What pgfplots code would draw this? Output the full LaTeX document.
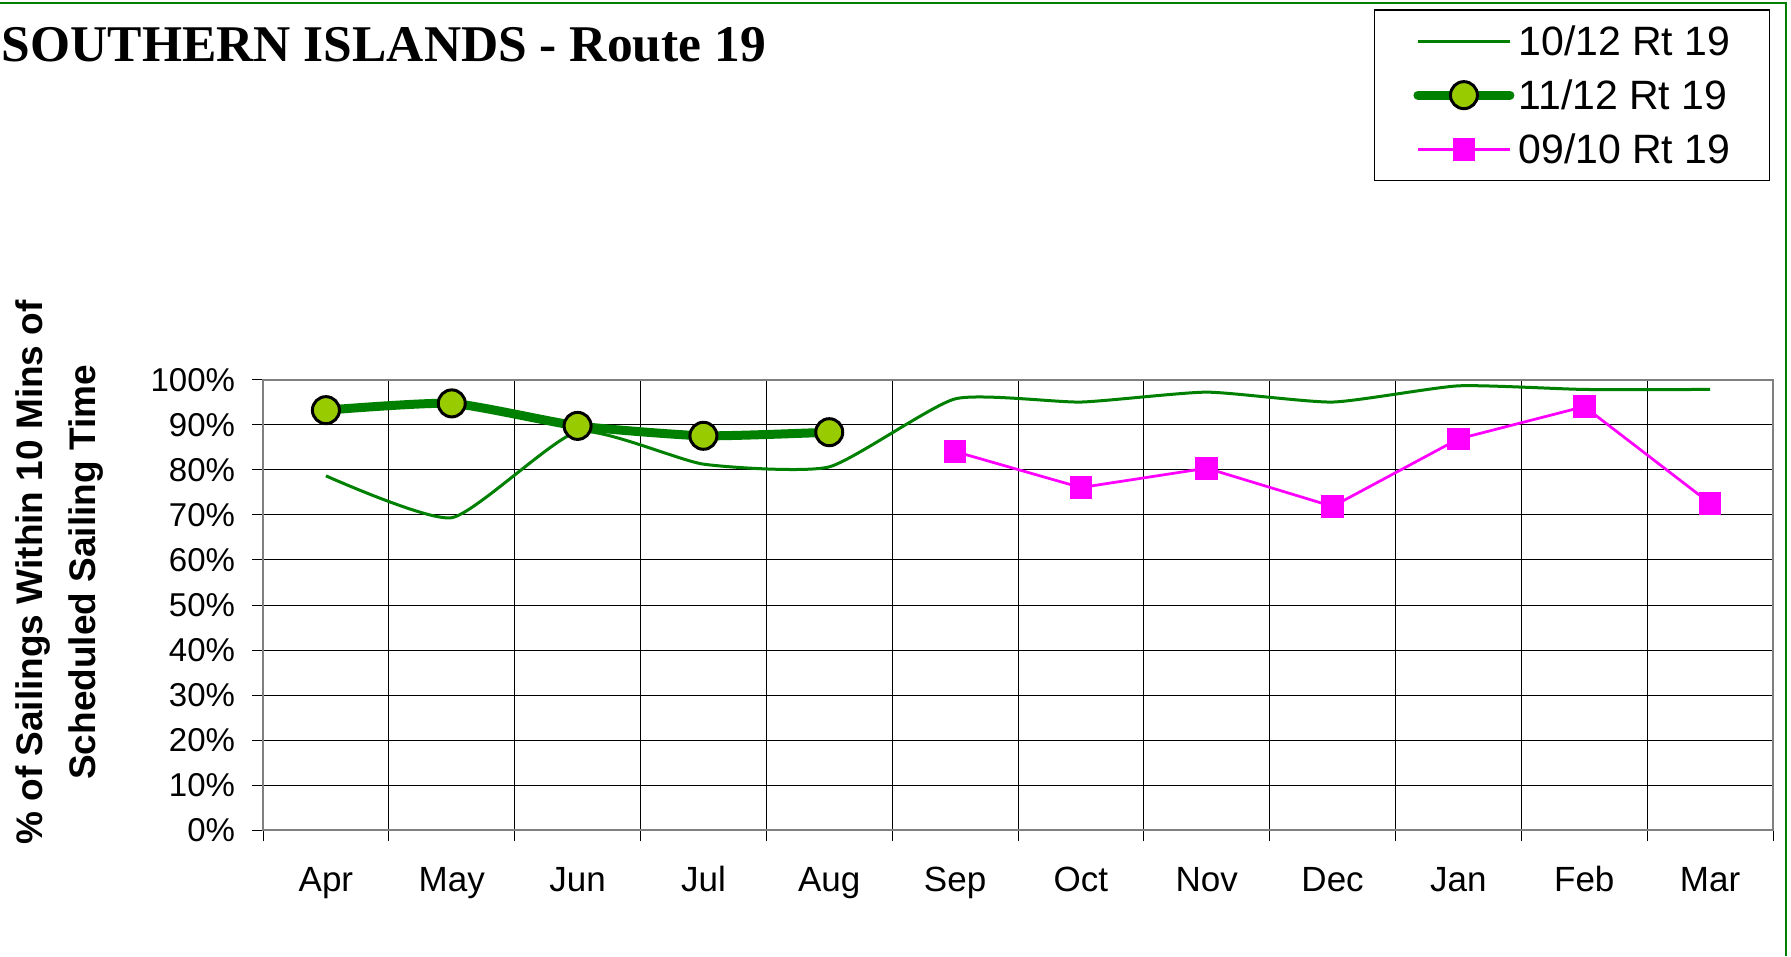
\documentclass[border=0pt]{standalone}
\usepackage{fontspec}
\setmainfont{Liberation Sans}
\newfontfamily\titlefont{Liberation Serif}
\usepackage{pgfplots}
\pgfplotsset{compat=1.18}
\usetikzlibrary{calc}
\definecolor{dgreen}{RGB}{0,128,0}
\definecolor{lgreen}{RGB}{153,204,0}
\definecolor{mag}{RGB}{255,0,255}
\begin{document}
\begin{tikzpicture}
\begin{axis}[
  scale only axis, width=604pt, height=180pt,
  xmin=-0.5, xmax=11.5, ymin=0, ymax=100,
  xtick={-0.5,0.5,1.5,2.5,3.5,4.5,5.5,6.5,7.5,8.5,9.5,10.5,11.5},
  x tick label as interval,
  xticklabels={Apr,May,Jun,Jul,Aug,Sep,Oct,Nov,Dec,Jan,Feb,Mar},
  ytick={0,10,20,30,40,50,60,70,80,90,100},
  yticklabels={0\%,10\%,20\%,30\%,40\%,50\%,60\%,70\%,80\%,90\%,100\%},
  xtick pos=bottom, ytick pos=left,
  tick align=outside, major tick length=4.4pt,
  tick style={black, line width=0.4pt},
  xmajorgrids, ymajorgrids,
  grid style={black, line width=0.4pt},
  axis line style={draw=gray, line width=1pt},
  xticklabel style={font=\fontsize{14}{16}\selectfont, anchor=base, inner sep=0pt, yshift=-20.1pt},
  yticklabel style={font=\fontsize{13.2}{15}\selectfont, anchor=east, inner sep=0pt, xshift=-6.6pt},
  legend style={at={(0.7358,1.8238)}, anchor=north west, draw=black, line width=0.5pt,
    font=\fontsize{16.4}{19}\selectfont, inner xsep=15.5pt, inner ysep=4.5pt,
    row sep=5.6pt, column sep=1.6pt,
    nodes={inner sep=0pt, text height=13.7pt, text depth=2.3pt},
    cells={anchor=west}},
  legend image code/.code={\draw[mark repeat=2,mark phase=2,#1] plot coordinates {(0pt,0pt) (18.4pt,0pt) (36.8pt,0pt)};},
]
\coordinate (A) at (rel axis cs:0,0);
\addplot[dgreen, line width=1.2pt, smooth, tension=0.33] coordinates {
(0,78.7) (1,69.4) (2,88.5) (3,81.3) (4,80.7) (5,95.8) (6,95.1) (7,97.3) (8,95.1) (9,98.7) (10,97.9) (11,97.9)};
\addlegendentry{10/12 Rt 19}
\addplot[dgreen, line width=3.6pt, line cap=round, smooth, tension=0.33, mark=*, mark size=5.4pt,
  mark options={fill=lgreen, draw=black, line width=1.2pt}] coordinates {
(0,93.3) (1,94.8) (2,89.8) (3,87.6) (4,88.4)};
\addlegendentry{11/12 Rt 19}
\addplot[mag, line width=1.1pt, mark=square*, mark size=4pt, mark options={fill=mag, draw=mag}] coordinates {
(5,84.1) (6,76.1) (7,80.4) (8,71.9) (9,86.9) (10,94.1) (11,72.6)};
\addlegendentry{09/10 Rt 19}
\end{axis}
\coordinate (O) at ($(A)+(-105.2pt,-50.4pt)$);
\pgfresetboundingbox
\path[use as bounding box] (O) rectangle ($(O)+(716.4pt,382.4pt)$);
\begin{scope}[shift={(O)}]
\draw[dgreen, line width=0.8pt] (0pt,381.1pt) -- (714.4pt,381.1pt) -- (714.4pt,0pt);
\node[anchor=base west, inner sep=0pt, font=\titlefont\bfseries\fontsize{20.6}{24}\selectfont] at (0.6pt,357.7pt) {SOUTHERN ISLANDS - Route 19};
\node[rotate=90, anchor=base, inner sep=0pt, font=\bfseries\fontsize{14.8}{18}\selectfont] at (17.2pt,153.4pt) {\% of Sailings Within 10 Mins of};
\node[rotate=90, anchor=base, inner sep=0pt, font=\bfseries\fontsize{14.8}{18}\selectfont] at (38.4pt,153.4pt) {Scheduled Sailing Time};
\end{scope}
\end{tikzpicture}
\end{document}
